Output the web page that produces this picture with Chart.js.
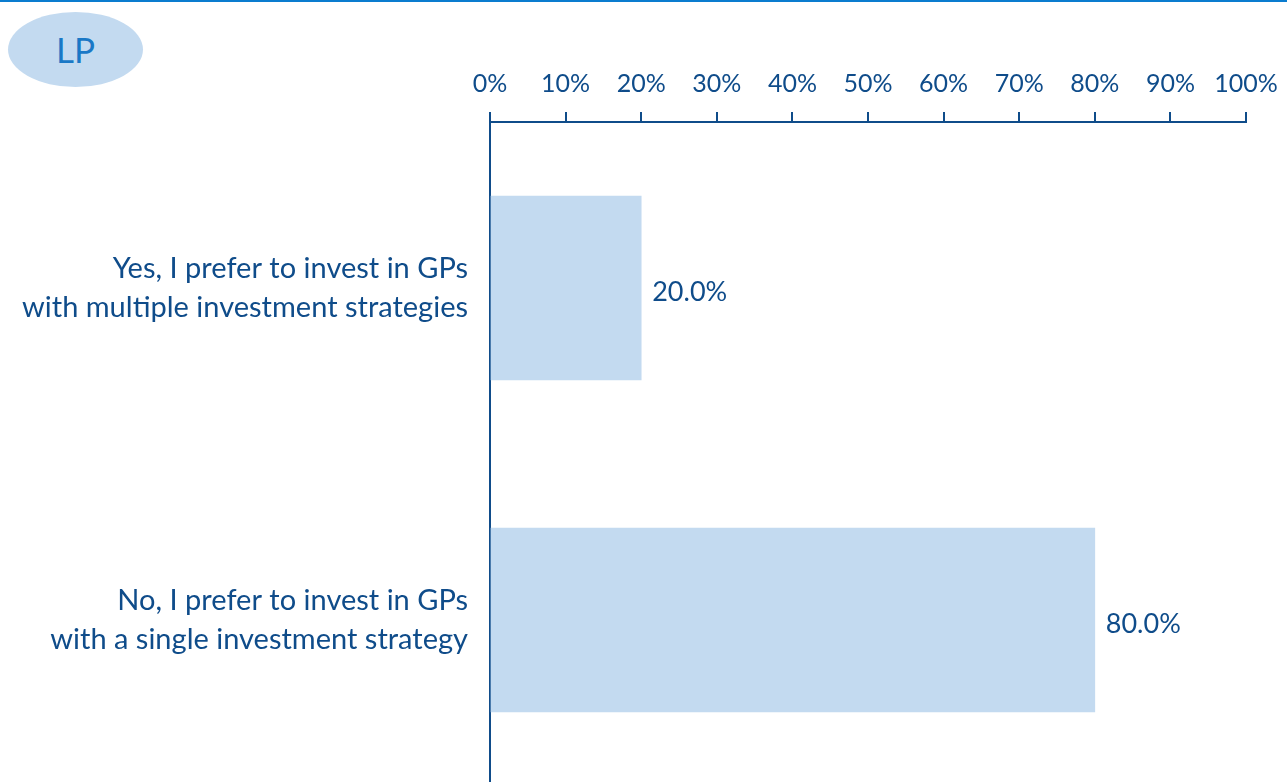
<!DOCTYPE html>
<html lang="en">
<head>
    <meta charset="UTF-8">
    <title>LP - estratégias</title>
    <script src="https://cdn.jsdelivr.net/npm/chart.js"></script>
    <style>
        html, body { margin: 0; padding: 0; background: #fff; overflow: hidden; }
        body { width: 1287px; height: 782px; position: relative; }
        .topo { position: absolute; left: 0; top: 0; width: 1287px; height: 2px; background: #0a7ccf; }
        .badge {
            position: absolute; left: 8px; top: 12px; width: 135px; height: 75px;
            border-radius: 50%; background: #c3daf0; color: #1a78c6;
            font-family: Lato, sans-serif; font-size: 35px; line-height: 75px; text-align: center;
        }
        #divChart { position: absolute; left: 0; top: 0; width: 1287px; height: 786px; }
    </style>
</head>
<body>
    <div class="topo"></div>
    <div class="badge">LP</div>
    <div id="divChart"><canvas id="myChart"></canvas></div>
    <script>
        const categorias = [
            ['Yes, I prefer to invest in GPs', 'with multiple investment strategies'],
            ['No, I prefer to invest in GPs', 'with a single investment strategy']
        ];
        const percentuais = [20.0, 80.0];
        const ticksX = [0, 10, 20, 30, 40, 50, 60, 70, 80, 90, 100];

        const azulEscuro = '#0f4c8a';
        const fonte = 'Lato, sans-serif';

        // rótulos de valor ao lado das barras
        const rotulos = {
            id: 'rotulos',
            afterDatasetsDraw(chart) {
                const ctx = chart.ctx;
                const meta = chart.getDatasetMeta(0);
                ctx.save();
                ctx.fillStyle = azulEscuro;
                ctx.font = '27px ' + fonte;
                ctx.textBaseline = 'middle';
                meta.data.forEach((bar, i) => {
                    ctx.fillText(percentuais[i].toFixed(1) + '%', bar.x + 11, bar.y + 4);
                });
                ctx.restore();
            }
        };

        const data = {
            labels: categorias,
            datasets: [{
                data: percentuais,
                backgroundColor: '#c3daf0',
                borderWidth: 0,
                barThickness: 184
            }]
        };

        const config = {
            type: 'bar',
            data: data,
            options: {
                indexAxis: 'y',
                responsive: true,
                maintainAspectRatio: false,
                animation: false,
                layout: { padding: 0 },
                plugins: { legend: { display: false }, tooltip: { enabled: false } },
                scales: {
                    x: {
                        position: 'top',
                        min: 0,
                        max: 100,
                        afterFit: (scale) => {
                            scale.height = 122;
                            scale.paddingLeft = 0;
                            scale.paddingRight = 41;
                        },
                        afterBuildTicks: (scale) => { scale.ticks = ticksX.map(v => ({ value: v })); },
                        grid: { drawOnChartArea: false, drawTicks: true, tickLength: 10, color: azulEscuro, lineWidth: 2 },
                        border: { display: true, color: azulEscuro, width: 2 },
                        ticks: {
                            color: azulEscuro,
                            font: { family: fonte, size: 25 },
                            padding: 13,
                            maxRotation: 0,
                            autoSkip: false,
                            callback: (v) => v + '%'
                        }
                    },
                    y: {
                        afterFit: (scale) => {
                            scale.width = 490;
                            scale.paddingTop = 0;
                            scale.paddingBottom = 0;
                        },
                        grid: { display: true, drawOnChartArea: false, drawTicks: false },
                        border: { display: true, color: azulEscuro, width: 2 },
                        ticks: {
                            color: azulEscuro,
                            font: { family: fonte, size: 29, lineHeight: 1.35 },
                            padding: 22
                        }
                    }
                }
            },
            plugins: [rotulos]
        };

        new Chart(document.getElementById('myChart'), config);
    </script>
</body>
</html>
